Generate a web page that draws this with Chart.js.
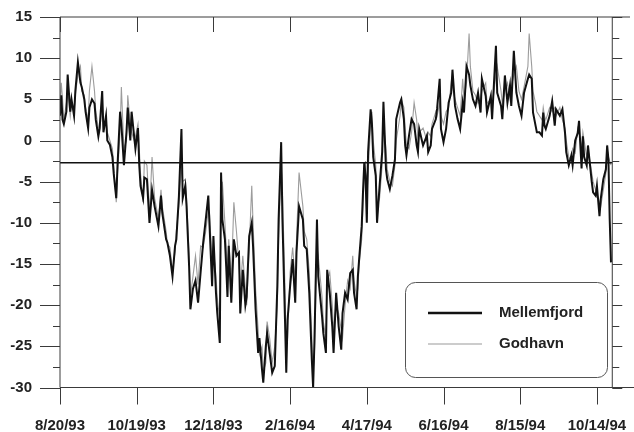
<!DOCTYPE html>
<html><head><meta charset="utf-8">
<script src="https://cdn.jsdelivr.net/npm/chart.js@4/dist/chart.umd.min.js"></script>
<style>html,body{margin:0;padding:0;background:#fff}canvas{display:block}</style>
</head><body>
<canvas id="c" width="634" height="432"></canvas>
<script>
// Days since 8/20/93 (sample positions)
const days = [
  0,1,2,3,5,6,8,9,11,12,
  14,16,17,19,20,22,23,25,27,28,
  30,31,33,34,36,37,39,41,42,44,
  45,47,48,50,52,53,55,56,58,59,
  61,62,63,65,66,68,70,72,74,77,
  79,80,83,84,86,88,90,91,93,95,
  96,98,99,101,102,104,106,108,110,112,
  114,116,117,119,120,122,123,125,126,127,
  129,130,131,132,134,136,138,140,141,143,
  145,146,148,150,151,153,155,156,158,159,
  161,162,164,166,168,170,171,173,174,176,
  177,178,180,182,184,185,187,190,191,193,
  195,197,198,199,201,202,205,206,208,209,
  211,213,214,216,218,220,221,223,225,227,
  229,230,232,233,234,236,237,238,239,240,
  241,243,244,245,247,248,250,252,253,255,
  256,258,260,262,263,266,267,269,270,271,
  273,275,277,279,280,281,284,287,288,290,
  291,294,295,297,298,300,302,304,306,307,
  309,311,313,315,316,318,320,321,323,325,
  327,329,330,333,334,337,338,341,342,345,
  346,348,350,352,353,355,357,359,361,363,
  366,367,369,370,372,373,375,377,378,379,
  380,383,385,387,388,391,393,395,396,398,
  400,401,403,405,406,408,409,410,412,413,
  416,417,419,420,422,423,425,427,428,429,
  430,431
];
const mellemfjord = [
  3,5.5,2.5,2,3.5,8,3.5,5,3,6,
  9.5,7,6.5,5,3.5,1.5,4,5,4.5,2.5,
  0.5,1.5,6,1,3,0,-0.5,-2,-4,-7,
  -3,3.5,2,-3,1,4,0,3.5,0.5,-1,
  1.5,-3,-5.5,-7,-4.5,-4.7,-10,-6,-8,-10.4,
  -6.7,-8.8,-12,-12.4,-14,-16.5,-12.8,-12,-6.8,1.4,
  -7,-5.5,-8,-15.3,-20.5,-18,-17,-19.7,-16,-12.4,
  -9.6,-6.7,-10.4,-17.7,-11.6,-18.5,-20.9,-24.6,-3.9,-9.6,
  -12,-15.3,-19,-12.8,-19.7,-12,-14,-13.6,-21,-15.7,
  -20,-19,-11.6,-10,-12.8,-20.5,-25.8,-24,-27.8,-29.4,
  -25,-23.4,-25.8,-28.2,-27.4,-17.7,-9.6,-0.2,-9.6,-21.8,
  -28.2,-21.8,-17.7,-14.4,-19.7,-13.6,-8,-9.6,-12.8,-13.2,
  -18.5,-26.7,-30,-24.6,-9.6,-16.5,-21.4,-23.4,-25.8,-15.7,
  -18.5,-22.6,-25.8,-18.5,-22.6,-25.4,-21,-18.5,-19.3,-16.1,
  -15.7,-18.5,-20.5,-16.5,-14.4,-10.4,-6.3,-2.7,-4.3,-10,
  -1.4,3.8,2,-2,-4.3,-10,-5.5,-1.4,4.7,-3.5,
  -4.7,-5.9,-4.3,-2.3,2.6,4.6,5,2.6,-0.6,-1.8,
  0.6,2.6,2,-0.6,-1.4,1.4,-0.6,0.6,-1.4,-0.6,
  1.4,2.6,3.9,7.5,1.4,-0.2,1.4,4.6,5.8,8.6,
  4.2,2.6,1.4,4.6,3.4,9,8,6.7,5,4.2,
  5.8,3.4,7.5,5.4,3.4,5.4,2.6,11.5,5.8,4.2,
  2.6,7.9,4.6,6.7,4.2,10.9,5.8,4.2,3,5.8,
  7.5,8,7.5,3.4,1.8,1,1,0.6,3.4,1.8,
  1.4,3,4.8,1.8,3.8,3,3.8,1,-1.4,-3,
  -1.8,-3,0,0.9,2.4,-3.4,0.5,-2,-3,-0.6,
  -5.1,-6.3,-6.7,-5.5,-9.2,-7.1,-4.7,-3.5,-0.6,-2.3,
  -9.6,-14.8
];
const godhavn = [
  4,7,5,2.5,4.5,6,3,4.5,3.5,5.5,
  8,9,6,5.5,4,2.5,6,9,6,3.5,
  1.5,1,4.5,2,2.5,1,0,-1,-3,-7.5,
  -4,1,6.5,-1,0,5.5,2,1,0,0.5,
  2,-1,-4,-7.5,-2.5,-3,-9,-2,-7,-9.5,
  -6,-8,-11,-12.5,-13,-16,-13.5,-11,-8,-3,
  -5,-4.7,-7,-14,-19,-16.5,-14,-17.5,-12.8,-13,
  -11,-8.5,-9,-15,-13,-16.5,-19,-22,-7,-5,
  -10,-13,-16,-12,-17,-7.5,-11,-15,-18,-14,
  -18,-20,-13,-5.5,-10,-18,-23,-26,-25,-28,
  -27,-22,-24,-27,-25,-20,-12,-3,-6,-18,
  -25,-24,-16,-13,-17,-12,-3.9,-8,-11,-12,
  -16,-24,-28,-26,-13,-14,-19,-22,-24,-17,
  -16,-20,-23,-20,-21,-23,-24,-20,-17,-18,
  -14,-17,-19,-18,-15,-12,-8,-4,-2.5,-7,
  -4,2,3.5,0,-3,-8,-7,-3,2,-1,
  -3.5,-5,-5.5,-3,0,3,5,4,1.5,-0.5,
  -1,1,4.6,2.5,0,1,1.5,0,1,0.5,
  2,3.5,3,4.5,3,2,3.5,4,7,6.5,
  5,4,3,7.5,5,7,13,9,6,5.5,
  4.5,5,6,7,4.5,5,4,8,9,6,
  4.5,6,7,5,6.5,8,9,6,5,6.5,
  9,13,9,6,4.5,3.5,3,2.5,4,3,
  2.5,4,3.5,4,3,4,2.5,1.5,0,-2,
  -2.5,-1,-1.5,1.5,1,-1,1,0,-2,-1,
  -4,-5,-6,-6.5,-7.5,-8,-6,-4,-1,-2,
  -2.5,-3
];
const referenceLevel = -2.7;
const referenceSpan = [0, 432];
const seriesNames = ['Mellemfjord', 'Godhavn'];
const tickDays = [0, 60, 120, 180, 240, 300, 360, 420];
const tickLabels = ['8/20/93','10/19/93','12/18/93','2/16/94','4/17/94','6/16/94','8/15/94','10/14/94'];
const yTicks = [15, 10, 5, 0, -5, -10, -15, -20, -25, -30];

const FONT = {family: "'Liberation Sans', Arial, sans-serif", size: 15, weight: 'bold'};

const frame = {
  id: 'frame',
  afterDatasetsDraw(chart) {
    const {ctx, scales: {x, y}} = chart;
    const xl = x.getPixelForValue(0);
    const xr = x.getPixelForValue(referenceSpan[1]);
    const yt = y.getPixelForValue(15);
    const yb = y.getPixelForValue(-30);
    ctx.save();
    ctx.strokeStyle = '#3a3a3a';
    ctx.lineWidth = 1;
    const ln = (a,b,c,d) => { ctx.beginPath(); ctx.moveTo(a,b); ctx.lineTo(c,d); ctx.stroke(); };
    ln(xl, yt, xl, yb);
    ln(xl, yt, 630, yt);
    ln(xl, yb, 634, yb);
    ln(xr, yt, xr, yb);
    for (let v = -30; v <= 15; v += 2.5) {
      const yy = Math.round(y.getPixelForValue(v)) + 0.5;
      const major = v % 5 === 0;
      ln(xl - (major ? 20 : 7), yy, xl, yy);
      ln(xr, yy, xr + (major ? 10 : 7), yy);
    }
    tickDays.forEach(d => {
      const px = Math.round(x.getPixelForValue(d)) + 0.5;
      ln(px, yb, px, yb + 17);
      ln(px, yt, px, yt + 15);
    });
    // legend box
    const bx = 405, by = 282, bw = 202, bh = 95, r = 10;
    ctx.strokeStyle = '#555';
    ctx.beginPath();
    ctx.roundRect(bx + 0.5, by + 0.5, bw, bh, r);
    ctx.stroke();
    ctx.strokeStyle = '#111'; ctx.lineWidth = 2.5;
    ln(428, 313, 482, 313);
    ctx.strokeStyle = '#999'; ctx.lineWidth = 1.2;
    ln(428, 344, 482, 344);
    ctx.fillStyle = '#222';
    ctx.font = "bold 15px 'Liberation Sans', Arial, sans-serif";
    ctx.textBaseline = 'middle';
    ctx.textAlign = 'left';
    ctx.fillText(seriesNames[0], 499, 313);
    ctx.fillText(seriesNames[1], 499, 344);
    ctx.restore();
  }
};

new Chart(document.getElementById('c'), {
  type: 'line',
  data: {
    datasets: [
      {
        label: seriesNames[0],
        data: days.map((d, i) => ({x: d, y: mellemfjord[i]})),
        borderColor: '#111', borderWidth: 2, pointRadius: 0, tension: 0, order: 1
      },
      {
        label: seriesNames[1],
        data: days.map((d, i) => ({x: d, y: godhavn[i]})),
        borderColor: '#9c9c9c', borderWidth: 1.1, pointRadius: 0, tension: 0, order: 2
      },
      {
        label: 'reference',
        data: referenceSpan.map(d => ({x: d, y: referenceLevel})),
        borderColor: '#111', borderWidth: 1.6, pointRadius: 0, order: 0
      }
    ]
  },
  options: {
    responsive: false,
    animation: false,
    devicePixelRatio: 1,
    layout: {padding: {top: 17, right: 0, left: 0, bottom: 0}},
    plugins: {legend: {display: false}, tooltip: {enabled: false}},
    scales: {
      x: {
        type: 'linear', min: 0, max: 449,
        grid: {display: false, drawTicks: false},
        border: {display: false},
        afterBuildTicks: s => { s.ticks = tickDays.map(v => ({value: v})); },
        afterFit: s => { s.height = 44.5; s.paddingLeft = 0; s.paddingRight = 0; },
        ticks: {
          autoSkip: false, maxRotation: 0, padding: 29, color: '#222', font: FONT,
          callback: v => tickLabels[tickDays.indexOf(v)]
        }
      },
      y: {
        min: -30, max: 15,
        grid: {display: false, drawTicks: false},
        border: {display: false},
        afterBuildTicks: s => { s.ticks = yTicks.map(v => ({value: v})); },
        afterFit: s => { s.width = 60; s.paddingTop = 0; s.paddingBottom = 0; },
        ticks: {padding: 28, color: '#222', font: FONT, callback: v => String(v)}
      }
    }
  },
  plugins: [frame]
});
</script>
</body></html>
